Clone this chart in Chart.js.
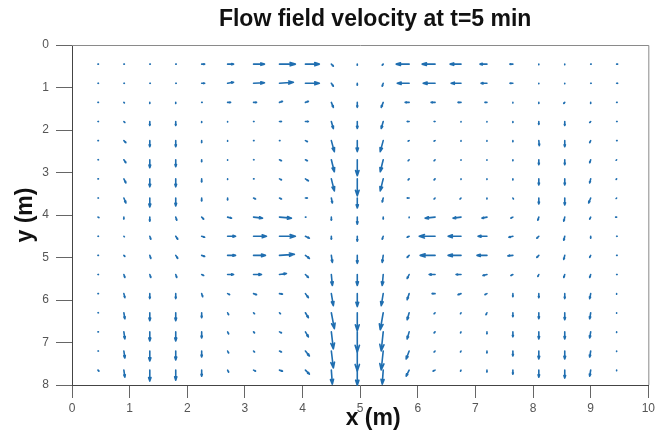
<!DOCTYPE html>
<html>
<head>
<meta charset="utf-8">
<script src="https://cdn.jsdelivr.net/npm/chart.js@4.4.0/dist/chart.umd.min.js"></script>
<style>
  html, body { margin: 0; padding: 0; background: #fff; }
  #wrap { width: 658px; height: 431px; }
</style>
</head>
<body>
<div id="wrap"><canvas id="c"></canvas></div>
<script>
// Flow field (quiver) at t = 5 min
const TITLE = 'Flow field velocity at t=5 min';
const X_LABEL = 'x (m)';
const Y_LABEL = 'y (m)';

// grid of arrow tails (m)
const X = [0.45,0.90,1.35,1.80,2.25,2.70,3.15,3.60,4.05,4.50,4.95,5.40,5.85,6.30,6.75,7.20,7.65,8.10,8.55,9.00,9.45];
const Y = [0.45,0.90,1.35,1.80,2.25,2.70,3.15,3.60,4.05,4.50,4.95,5.40,5.85,6.30,6.75,7.20,7.65];

// velocity components, one row per Y value (mm/s), v positive = towards larger y
const U = [
  [0.5,0.5,0.5,0.5,3,6,11,16,14,2,0,-1,-13,-13,-11,-7,-3,0,0,0.5,1],
  [0.5,0.5,0.5,0.5,3,6,11,14,14,2,0,-1,-12,-12,-10,-6,-3,0,0,0.5,1],
  [0.5,0.5,0,0,0.5,3,3,3,3,2,0,-2,-4,-4,-3,-2,0,0,-1,0,0.5],
  [0.5,1,0,0,0,0,0.5,2,3,2,0,-2,-2,-1,0,0,0,0,0,-1,0.5],
  [0.5,2,0,0,0,0,0.5,0.5,2,3,0,-3,-1,-1,0,0,0,0.5,0,-1,0.5],
  [0.5,2,0,0,0,0,0.5,2,2,3,0,-3,-1,-1,0,0,0,0,0,-1,-0.5],
  [0.5,2,0,0,0,0,0.5,2,3,3,0,-3,-1,-1,0,0,0,0,0,-1,-0.5],
  [0.5,2,0,0,0,0,2,2,2,1,0,-1,-2,-1,-1,0,0.5,0,0,-2,-0.5],
  [1,0,0,1,2,4,9,12,0.5,0,0,0,0,-10,-8,-5,-2,-1,-1,-1,-1],
  [0.5,0.5,1,2,3,8,13,16,4,0,0,-1,-2,-16,-13,-9,-4,-2,-1,0,0.5],
  [0.5,1,1,2,3,8,12,15,4,1,0,-1,-2,-15,-13,-10,-5,-2,-1,-1,0.5],
  [0.5,1,1,1,2,6,8,7,3,1,0,-1,-2,-6,-5,-4,-2,-1,-1,-1,0.5],
  [0.5,1,0,0,1,2,3,3,3,2,0,-2,-2,-3,-3,-2,0,0,0,-1,0],
  [0.5,1,0,0,0,1,1,1,3,3,0,-3,-2,-1,-0.5,-1,0,0,0,-1,0],
  [0.5,1,0,0,0,1,1,2,3,2,0,-2,-2,-1,-0.5,0,0,0,0,-1,0],
  [0.5,1,0,0,0,1,1,2,4,2,0,-2,-3,-1,-0.5,0,0,0,0,-1,0],
  [1,1,0,0,0,1,2,3,4,1,0,-1,-3,-2,-0.5,0,0,0,0,-1,0]
];
const V = [
  [0,0,0,0,0,0,0,0,0,2.7,1.4,1.4,0,0,0,0,0,0.7,0.7,0,0],
  [0,0,0,0,0,-1.4,-0.7,-1.4,0,4.1,2.7,4.1,0,0,0,0,0,0.7,0.7,0,0],
  [0,0.7,1.4,1.4,0,0,0,-1.4,-1.4,6.8,6.8,6.8,0,0,0,0,0.7,1.4,1.4,1.4,0],
  [0,1.4,5.5,5.5,1.4,0.7,0,0,0,9.6,9.6,9.6,0,0,0.7,0.7,1.4,4.1,5.5,1.4,0],
  [0,2.7,8.2,8.2,2.7,0.7,0,0,1.4,15,15,15,0.7,0.7,0.7,0.7,1.4,6.8,8.2,2.7,0],
  [0,4.1,10.9,9.6,2.7,0.7,0,1.4,1.4,16.4,21.8,16.4,1.4,1.4,0.7,0.7,1.4,6.8,6.8,4.1,0.7],
  [0,5.5,10.9,10.9,4.1,0.7,0,1.4,2.7,16.4,23.2,16.4,1.4,1.4,0.7,0.7,1.4,8.2,8.2,5.5,0.7],
  [0,6.8,12.3,10.9,4.1,2.7,1.4,1.4,0,6.8,13.7,5.5,0,1.4,1.4,1.4,1.4,8.2,9.6,6.8,0.7],
  [0.7,2.7,5.5,4.1,2.7,1.4,1.4,1.4,0,4.1,9.6,2.7,0.7,1.4,1.4,1.4,1.4,4.1,5.5,2.7,0],
  [0,0.7,4.1,4.1,1.4,0,0,0,2.7,4.1,6.8,4.1,1.4,0,0,0,1.4,2.7,5.5,2.7,0],
  [0,1.4,4.1,4.1,1.4,0,0,-1.4,4.1,9.6,10.9,9.6,2.7,0,0,0,0.7,2.7,5.5,2.7,0],
  [0,4.1,4.1,4.1,1.4,0,0,-1.4,4.1,15,15,15,5.5,0,0,1.4,1.4,2.7,4.1,4.1,0],
  [0,5.5,6.8,6.8,4.1,1.4,1.4,0.7,5.5,16.4,17.7,16.4,8.2,0,1.4,1.4,4.1,5.5,6.8,6.8,0.7],
  [0,8.2,10.9,10.9,6.8,2.7,1.4,1.4,6.8,21.8,24.6,23.2,9.6,1.4,1.4,2.7,5.5,8.2,9.6,8.2,0.7],
  [0,9.6,12.3,12.3,8.2,2.7,1.4,1.4,6.8,23.2,27.3,25.9,9.6,1.4,1.4,2.7,6.8,9.6,9.6,8.2,0.7],
  [0,9.6,13.7,12.3,8.2,2.7,1.4,1.4,6.8,23.2,27.3,25.9,10.9,1.4,1.4,2.7,6.8,10.9,10.9,8.2,0.7],
  [1.4,9.6,15,13.7,8.2,2.7,1.4,1.4,5.5,19.1,20.5,19.1,8.2,1.4,1.4,2.7,5.5,9.6,10.9,8.2,0.7]
];

const X_TICKS = [0,1,2,3,4,5,6,7,8,9,10];
const Y_TICKS = [0,1,2,3,4,5,6,7,8];

const ARROW_SCALE = 0.01724;   // m of arrow per mm/s
const ARROW_COLOR = '#1f6eb0';
const FONT = '"Liberation Sans", Arial, Helvetica, sans-serif';

// build the point list for the dataset
const points = [];
Y.forEach((y, j) => {
  X.forEach((x, i) => {
    points.push({ x, y, u: U[j][i], v: V[j][i] });
  });
});

// draws each vector as a MATLAB-style quiver arrow
const quiverPlugin = {
  id: 'quiver',
  afterDatasetsDraw(chart) {
    const { ctx } = chart;
    const xs = chart.scales.x, ys = chart.scales.y;
    const a = 0.33, b = 0.33;
    ctx.save();
    ctx.strokeStyle = ARROW_COLOR;
    ctx.lineWidth = 1.6;
    ctx.lineCap = 'round';
    ctx.lineJoin = 'round';
    chart.data.datasets[0].data.forEach(p => {
      const x0 = xs.getPixelForValue(p.x), y0 = ys.getPixelForValue(p.y);
      const x1 = xs.getPixelForValue(p.x + p.u * ARROW_SCALE);
      const y1 = ys.getPixelForValue(p.y + p.v * ARROW_SCALE);
      const dx = x1 - x0, dy = y1 - y0;
      ctx.beginPath();
      ctx.moveTo(x0, y0);
      ctx.lineTo(x1, y1);
      ctx.moveTo(x1 - a * (dx + b * dy), y1 - a * (dy - b * dx));
      ctx.lineTo(x1, y1);
      ctx.lineTo(x1 - a * (dx - b * dy), y1 - a * (dy + b * dx));
      ctx.stroke();
    });
    ctx.restore();
  }
};

// box around the axes + title and x label
const framePlugin = {
  id: 'frame',
  afterDraw(chart) {
    const { ctx, chartArea: c } = chart;
    ctx.save();
    ctx.strokeStyle = '#8a8a8a';
    ctx.lineWidth = 1;
    ctx.beginPath();
    ctx.moveTo(c.left, c.top + 0.5);
    ctx.lineTo(c.right + 0.5, c.top + 0.5);
    ctx.lineTo(c.right + 0.5, c.bottom);
    ctx.stroke();

    ctx.fillStyle = '#111';
    ctx.textAlign = 'center';
    ctx.textBaseline = 'middle';
    ctx.font = 'bold 23px ' + FONT;
    ctx.fillText(TITLE, (c.left + c.right) / 2 + 15, 20);
    ctx.font = 'bold 23px ' + FONT;
    ctx.fillText(X_LABEL, (c.left + c.right) / 2 + 13, 419);
    ctx.restore();
  }
};

new Chart(document.getElementById('c'), {
  type: 'scatter',
  data: {
    datasets: [{
      data: points,
      pointRadius: 0,
      pointHoverRadius: 0,
      showLine: false
    }]
  },
  options: {
    responsive: true,
    maintainAspectRatio: false,
    animation: false,
    devicePixelRatio: 1,
    layout: { padding: { top: 45, right: 8, left: 0, bottom: 0 } },
    plugins: {
      legend: { display: false },
      tooltip: { enabled: false },
      title: { display: false }
    },
    scales: {
      x: {
        type: 'linear',
        min: 0, max: 10,
        afterFit: s => { s.height = 46; },
        afterBuildTicks: s => { s.ticks = X_TICKS.map(v => ({ value: v })); },
        border: { display: true, color: '#444', width: 1 },
        grid: { drawOnChartArea: false, drawTicks: true, tickLength: 13, color: '#666' },
        ticks: { color: '#555', padding: 3, font: { family: FONT, size: 12 }, maxRotation: 0 }
      },
      y: {
        type: 'linear',
        reverse: true,
        min: 0, max: 8,
        afterFit: s => { s.width = 72; },
        afterBuildTicks: s => { s.ticks = Y_TICKS.map(v => ({ value: v })); },
        border: { display: true, color: '#444', width: 1 },
        grid: { drawOnChartArea: false, drawTicks: true, tickLength: 16, color: '#666' },
        ticks: { color: '#555', padding: 7, font: { family: FONT, size: 12 } },
        title: {
          display: true,
          text: Y_LABEL,
          color: '#111',
          font: { family: FONT, size: 23, weight: 'bold' },
          padding: { top: 12, bottom: 0 }
        }
      }
    }
  },
  plugins: [quiverPlugin, framePlugin]
});
</script>
</body>
</html>
